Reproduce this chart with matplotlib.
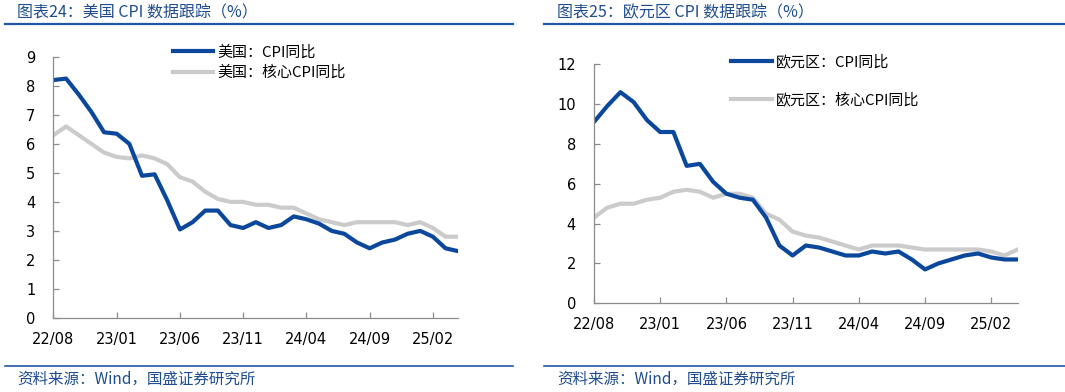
import matplotlib
matplotlib.use('Agg')
import matplotlib.pyplot as plt
from matplotlib.lines import Line2D

plt.rcParams['font.family'] = ['Noto Sans CJK SC', 'DejaVu Sans']

# 月份 2022/08 - 2025/04
months = ['22/08', '22/09', '22/10', '22/11', '22/12',
          '23/01', '23/02', '23/03', '23/04', '23/05', '23/06', '23/07', '23/08', '23/09', '23/10', '23/11', '23/12',
          '24/01', '24/02', '24/03', '24/04', '24/05', '24/06', '24/07', '24/08', '24/09', '24/10', '24/11', '24/12',
          '25/01', '25/02', '25/03', '25/04']
tick_labels = ['22/08', '23/01', '23/06', '23/11', '24/04', '24/09', '25/02']

us_cpi = [8.2, 8.25, 7.7, 7.1, 6.4, 6.35, 6.0, 4.9, 4.95, 4.05, 3.05, 3.3, 3.7, 3.7, 3.2, 3.1, 3.3,
          3.1, 3.2, 3.5, 3.4, 3.25, 3.0, 2.9, 2.6, 2.4, 2.6, 2.7, 2.9, 3.0, 2.8, 2.4, 2.3]
us_core = [6.3, 6.6, 6.3, 6.0, 5.7, 5.55, 5.5, 5.6, 5.5, 5.3, 4.85, 4.7, 4.35, 4.1, 4.0, 4.0, 3.9,
           3.9, 3.8, 3.8, 3.6, 3.4, 3.3, 3.2, 3.3, 3.3, 3.3, 3.3, 3.2, 3.3, 3.1, 2.8, 2.8]
ea_cpi = [9.1, 9.9, 10.6, 10.1, 9.2, 8.6, 8.6, 6.9, 7.0, 6.1, 5.5, 5.3, 5.2, 4.3, 2.9, 2.4, 2.9,
          2.8, 2.6, 2.4, 2.4, 2.6, 2.5, 2.6, 2.2, 1.7, 2.0, 2.2, 2.4, 2.5, 2.3, 2.2, 2.2]
ea_core = [4.3, 4.8, 5.0, 5.0, 5.2, 5.3, 5.6, 5.7, 5.6, 5.3, 5.5, 5.5, 5.3, 4.5, 4.2, 3.6, 3.4,
           3.3, 3.1, 2.9, 2.7, 2.9, 2.9, 2.9, 2.8, 2.7, 2.7, 2.7, 2.7, 2.7, 2.6, 2.4, 2.7]

BLUE = '#0B479B'
GREY = '#CBCBCB'
TITLE_C = '#1E4C8E'
RULE_C = '#2157A5'

fig = plt.figure(figsize=(10.65, 3.92), dpi=100)


def draw_panel(rect, cpi, core, ymax, ystep, names, leg_anchor, leg_gap):
    ax = fig.add_axes(rect)
    x = list(range(len(months)))
    ax.plot(x, core, color=GREY, lw=3.0, solid_joinstyle='round', solid_capstyle='round')
    ax.plot(x, cpi, color=BLUE, lw=3.0, solid_joinstyle='round', solid_capstyle='round')
    ax.set_xlim(0, len(months) - 1)
    ax.set_ylim(0, ymax)
    ax.set_yticks(range(0, ymax + 1, ystep))
    ax.set_xticks([months.index(m) for m in tick_labels])
    ax.set_xticklabels(tick_labels)
    for s in ['top', 'right']:
        ax.spines[s].set_visible(False)
    for s in ['left', 'bottom']:
        ax.spines[s].set_color('#8C8C8C')
        ax.spines[s].set_linewidth(0.9)
    ax.tick_params(axis='both', direction='in', length=4, width=0.9, color='#8C8C8C',
                   labelsize=10.5, labelcolor='black')
    ax.tick_params(axis='y', pad=13)
    ax.tick_params(axis='x', pad=10)
    for lbl in ax.get_xticklabels() + ax.get_yticklabels():
        lbl.set_family(['DejaVu Sans'])
    handles = [Line2D([], [], color=BLUE, lw=3.0), Line2D([], [], color=GREY, lw=3.0)]
    ax.legend(handles, names, loc='upper left', bbox_to_anchor=leg_anchor, frameon=False,
              fontsize=10.8, handlelength=2.7, handletextpad=0.3, labelspacing=leg_gap,
              borderaxespad=0)
    return ax


draw_panel([0.0502, 0.189, 0.380, 0.666], us_cpi, us_core, 9, 1,
           ['美国：CPI同比', '美国：核心CPI同比'], (0.28, 1.068), 0.42)
draw_panel([0.5577, 0.2263, 0.3979, 0.6097], ea_cpi, ea_core, 12, 2,
           ['欧元区：CPI同比', '欧元区：核心CPI同比'], (0.31, 1.066), 1.55)

# 标题、分隔线与资料来源
fig.text(17 / 1065, 1 - 13 / 392, '图表24：美国 CPI 数据跟踪（%）', color=TITLE_C, fontsize=11.5,
         style='italic', va='center', ha='left')
fig.text(557 / 1065, 1 - 13 / 392, '图表25：欧元区 CPI 数据跟踪（%）', color=TITLE_C, fontsize=11.5,
         style='italic', va='center', ha='left')
fig.add_artist(Line2D([5 / 1065, 513 / 1065], [1 - 24 / 392] * 2, color=RULE_C, lw=1.6))
fig.add_artist(Line2D([544 / 1065, 1.0], [1 - 24 / 392] * 2, color=RULE_C, lw=1.6))
fig.add_artist(Line2D([5 / 1065, 513 / 1065], [1 - 366 / 392] * 2, color=RULE_C, lw=1.2))
fig.add_artist(Line2D([544 / 1065, 1.0], [1 - 366 / 392] * 2, color=RULE_C, lw=1.2))
fig.text(17 / 1065, 1 - 379 / 392, '资料来源：Wind，国盛证券研究所', color=TITLE_C, fontsize=11.2,
         style='italic', va='center', ha='left')
fig.text(557 / 1065, 1 - 379 / 392, '资料来源：Wind，国盛证券研究所', color=TITLE_C, fontsize=11.2,
         style='italic', va='center', ha='left')

fig.savefig('out.png', dpi=100)
